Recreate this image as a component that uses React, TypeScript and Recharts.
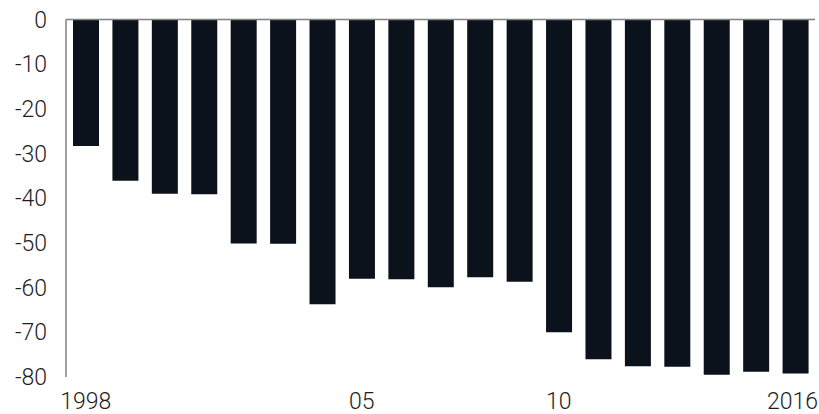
import { BarChart, Bar, XAxis, YAxis, ReferenceLine } from 'recharts';

const years = [
    '1998', '1999', '2000', '2001', '2002', '2003', '2004', '2005', '2006', '2007',
    '2008', '2009', '2010', '2011', '2012', '2013', '2014', '2015', '2016',
];

const values = [
    -28.3, -36.1, -39.0, -39.1, -50.1, -50.2, -63.7, -58.0, -58.1, -59.9,
    -57.7, -58.7, -70.0, -76.0, -77.6, -77.7, -79.5, -78.8, -79.2,
];

const yearLabels: Record<string, string> = { '1998': '1998', '2005': '05', '2010': '10', '2016': '2016' };

const yTicks = [0, -10, -20, -30, -40, -50, -60, -70, -80];

const data = years.map((year, i) => ({ year, value: values[i] }));

const font = 'Roboto, Liberation Sans, Arial, sans-serif';
const tickStyle = { fill: '#1e1e1e', fontSize: 23, fontWeight: 300, fontFamily: font };

// keeps the last year label inside the right edge
function YearTick({ x, y, payload }: any) {
    const label = yearLabels[payload.value] ?? '';
    if (!label) return null;
    const last = payload.value === years[years.length - 1];
    return (
        <text
            x={last ? 818 : x}
            y={y}
            dy="0.71em"
            textAnchor={last ? 'end' : 'middle'}
            fill="#1e1e1e"
            fontSize={23}
            fontWeight={300}
            fontFamily={font}
        >
            {label}
        </text>
    );
}

export default function App() {
    return (
        <div style={{ position: 'absolute', left: 0, top: 0, width: 819, height: 414, background: '#fff' }}>
            <BarChart
                width={819}
                height={414}
                data={data}
                margin={{ top: 19.5, right: 4, left: 0, bottom: 0 }}
                barSize={26}
            >
                <XAxis
                    dataKey="year"
                    interval={0}
                    axisLine={false}
                    tickLine={false}
                    height={37}
                    tickMargin={10}
                    tick={<YearTick />}
                />
                <YAxis
                    width={66}
                    domain={[-80, 0]}
                    ticks={yTicks}
                    interval={0}
                    axisLine={{ stroke: '#808080', strokeWidth: 1.5 }}
                    tickLine={false}
                    tickMargin={13}
                    tick={tickStyle}
                />
                <Bar dataKey="value" fill="#0b121b" isAnimationActive={false} />
                <ReferenceLine y={0} stroke="#808080" strokeWidth={1.5} />
            </BarChart>
        </div>
    );
}
